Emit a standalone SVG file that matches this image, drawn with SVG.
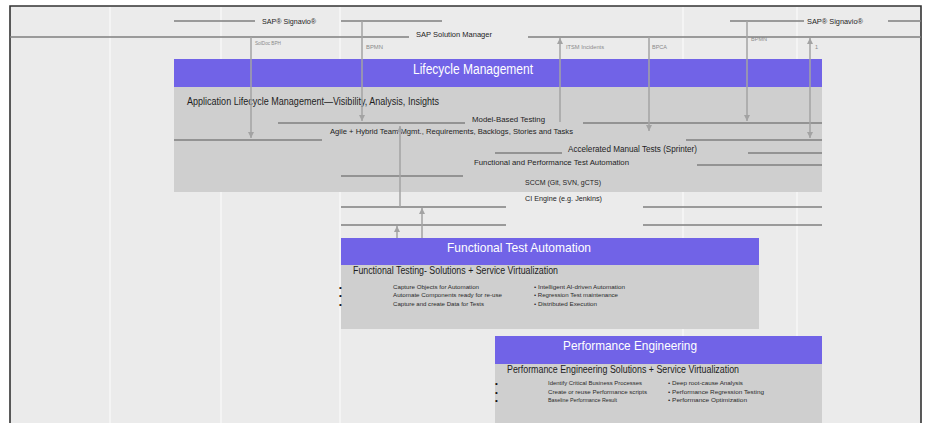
<svg xmlns="http://www.w3.org/2000/svg" width="928" height="423" viewBox="0 0 928 423">
<defs>
<style>
text{font-family:"Liberation Sans","Noto Sans",sans-serif;fill:#1e1e1e}
.col{stroke:#f7f7f7;stroke-width:1.5}
.rule{stroke:#7f7f7f;stroke-width:1.4;fill:none}
.conn{stroke:#a3a3a3;stroke-width:1.5;fill:none}
.head{fill:#7163e7}
.body{fill:#cfcfcf}
.lbl{font-size:5.5px;fill:#8a8a8a}
.small{font-size:6px;fill:#2a2a2a}
.dot{font-size:8px;fill:#111}
</style>
<marker id="ah" viewBox="0 0 6 6" refX="6" refY="3" markerWidth="6" markerHeight="6" markerUnits="userSpaceOnUse" orient="auto-start-reverse">
<path d="M0,0 L6,3 L0,6 z" fill="#a3a3a3"/>
</marker>
</defs>
<rect x="0" y="0" width="928" height="423" fill="#ffffff"/>
<rect x="10" y="6" width="911" height="417" fill="#ebebeb"/>
<g id="columns">
<line class="col" x1="110" y1="7" x2="110" y2="423"/>
<line class="col" x1="221" y1="7" x2="221" y2="423"/>
<line class="col" x1="340" y1="7" x2="340" y2="423"/>
<line class="col" x1="683" y1="7" x2="683" y2="423"/>
<line class="col" x1="797" y1="7" x2="797" y2="423"/>
</g>
<g id="frame" stroke="#333" stroke-width="1.6" fill="none">
<path d="M10,423 L10,6 L921,6 L921,423"/>
</g>
<g id="top-bars">
<line class="rule" x1="174" y1="21" x2="255" y2="21"/>
<text x="262" y="24" font-size="8" textLength="54" lengthAdjust="spacingAndGlyphs">SAP® Signavio®</text>
<line class="rule" x1="341" y1="21" x2="442" y2="21"/>
<line class="rule" x1="730" y1="21" x2="804" y2="21"/>
<text x="807" y="24" font-size="8" textLength="56" lengthAdjust="spacingAndGlyphs">SAP® Signavio®</text>
<line class="rule" x1="888" y1="21" x2="921" y2="21"/>
<line class="rule" x1="10" y1="37" x2="409" y2="37"/>
<text x="416" y="37" font-size="8" textLength="76" lengthAdjust="spacingAndGlyphs">SAP Solution Manager</text>
<line class="rule" x1="528" y1="37" x2="921" y2="37"/>
</g>
<g id="lifecycle">
<rect class="head" x="174" y="59" width="648" height="28"/>
<rect class="body" x="174" y="87" width="648" height="105"/>
<text x="473" y="74" font-size="14" text-anchor="middle" textLength="120" lengthAdjust="spacingAndGlyphs" style="fill:#fff">Lifecycle Management</text>
<text x="187" y="105" font-size="10" textLength="252" lengthAdjust="spacingAndGlyphs">Application Lifecycle Management—Visibility, Analysis, Insights</text>
<line class="rule" x1="278" y1="123" x2="465" y2="123"/>
<text x="472" y="122" font-size="8" textLength="73" lengthAdjust="spacingAndGlyphs">Model-Based Testing</text>
<line class="rule" x1="583" y1="123" x2="822" y2="123"/>
<text x="330" y="134" font-size="8" textLength="243" lengthAdjust="spacingAndGlyphs">Agile + Hybrid Team Mgmt., Requirements, Backlogs, Stories and Tasks</text>
<line class="rule" x1="174" y1="140" x2="322" y2="140"/>
<line class="rule" x1="686" y1="140" x2="822" y2="140"/>
<line class="rule" x1="495" y1="153" x2="562" y2="153"/>
<text x="568" y="152" font-size="8.5" textLength="129" lengthAdjust="spacingAndGlyphs">Accelerated Manual Tests (Sprinter)</text>
<line class="rule" x1="748" y1="153" x2="822" y2="153"/>
<text x="474" y="165" font-size="8" textLength="155" lengthAdjust="spacingAndGlyphs">Functional and Performance Test Automation</text>
<line class="rule" x1="697" y1="165" x2="822" y2="165"/>
<line class="rule" x1="341" y1="176" x2="463" y2="176"/>
<text x="525" y="185" font-size="8" textLength="76" lengthAdjust="spacingAndGlyphs">SCCM (Git, SVN, gCTS)</text>
</g>
<g id="ci-engine">
<text x="525" y="201" font-size="8" textLength="77" lengthAdjust="spacingAndGlyphs">CI Engine (e.g. Jenkins)</text>
<line class="rule" x1="341" y1="207" x2="506" y2="207"/>
<line class="rule" x1="643" y1="207" x2="822" y2="207"/>
<line class="rule" x1="341" y1="225" x2="506" y2="225"/>
<line class="rule" x1="643" y1="225" x2="822" y2="225"/>
</g>
<g id="functional-test-automation">
<rect class="head" x="341" y="238" width="418" height="27"/>
<rect class="body" x="341" y="265" width="418" height="64"/>
<text x="519" y="252" font-size="13" text-anchor="middle" textLength="144" lengthAdjust="spacingAndGlyphs" style="fill:#fff">Functional Test Automation</text>
<text x="353" y="274" font-size="10" textLength="205" lengthAdjust="spacingAndGlyphs">Functional Testing- Solutions + Service Virtualization</text>
<text class="dot" x="339" y="290">•</text>
<text class="dot" x="339" y="298">•</text>
<text class="dot" x="339" y="307">•</text>
<text class="small" x="393" y="289" textLength="86" lengthAdjust="spacingAndGlyphs">Capture Objects for Automation</text>
<text class="small" x="393" y="297" textLength="109" lengthAdjust="spacingAndGlyphs">Automate Components ready  for re-use</text>
<text class="small" x="393" y="306" textLength="91" lengthAdjust="spacingAndGlyphs">Capture and create Data for Tests</text>
<text class="small" x="534" y="289" textLength="91" lengthAdjust="spacingAndGlyphs">• Intelligent AI-driven Automation</text>
<text class="small" x="534" y="297" textLength="84" lengthAdjust="spacingAndGlyphs">• Regression Test maintenance</text>
<text class="small" x="534" y="306" textLength="63" lengthAdjust="spacingAndGlyphs">• Distributed Execution</text>
</g>
<g id="performance-engineering">
<rect class="head" x="495" y="336" width="327" height="28"/>
<rect class="body" x="495" y="364" width="327" height="59"/>
<text x="630" y="350" font-size="13" text-anchor="middle" textLength="134" lengthAdjust="spacingAndGlyphs" style="fill:#fff">Performance Engineering</text>
<text x="507" y="373" font-size="10" textLength="232" lengthAdjust="spacingAndGlyphs">Performance Engineering Solutions + Service Virtualization</text>
<text class="dot" x="495" y="386">•</text>
<text class="dot" x="495" y="395">•</text>
<text class="dot" x="495" y="403">•</text>
<text class="small" x="548" y="385" textLength="94" lengthAdjust="spacingAndGlyphs">Identify Critical Business  Processes</text>
<text class="small" x="548" y="394" textLength="99" lengthAdjust="spacingAndGlyphs">Create or reuse Performance scripts</text>
<text class="small" x="548" y="402" textLength="69" lengthAdjust="spacingAndGlyphs">Baseline  Performance Result</text>
<text class="small" x="668" y="385" textLength="75" lengthAdjust="spacingAndGlyphs">• Deep root-cause Analysis</text>
<text class="small" x="668" y="394" textLength="96" lengthAdjust="spacingAndGlyphs">• Performance Regression Testing</text>
<text class="small" x="668" y="402" textLength="79" lengthAdjust="spacingAndGlyphs">• Performance Optimization</text>
</g>
<g id="connectors">
<line class="conn" x1="251" y1="37" x2="251" y2="138" marker-end="url(#ah)"/>
<line class="conn" x1="362" y1="21" x2="362" y2="121" marker-end="url(#ah)"/>
<line class="conn" x1="560" y1="122" x2="560" y2="38" marker-end="url(#ah)"/>
<line class="conn" x1="649" y1="37" x2="649" y2="131" marker-end="url(#ah)"/>
<line class="conn" x1="747" y1="21" x2="747" y2="121" marker-end="url(#ah)"/>
<line class="conn" x1="810" y1="38" x2="810" y2="138" marker-start="url(#ah)" marker-end="url(#ah)"/>
<line class="conn" x1="400" y1="207" x2="400" y2="126" marker-end="url(#ah)"/>
<line class="conn" x1="422" y1="238" x2="422" y2="208" marker-end="url(#ah)"/>
<line class="conn" x1="397" y1="238" x2="397" y2="226" marker-end="url(#ah)"/>
</g>
<g id="connector-labels">
<text class="lbl" x="255" y="45" textLength="26" lengthAdjust="spacingAndGlyphs">SolDoc BPH</text>
<text class="lbl" x="366" y="49" textLength="17" lengthAdjust="spacingAndGlyphs">BPMN</text>
<text class="lbl" x="566" y="49" textLength="38" lengthAdjust="spacingAndGlyphs">ITSM Incidents</text>
<text class="lbl" x="652" y="49" textLength="15" lengthAdjust="spacingAndGlyphs">BPCA</text>
<text class="lbl" x="751" y="41" textLength="16" lengthAdjust="spacingAndGlyphs">BPMN</text>
<text class="lbl" x="815" y="49">1</text>
</g>
</svg>
